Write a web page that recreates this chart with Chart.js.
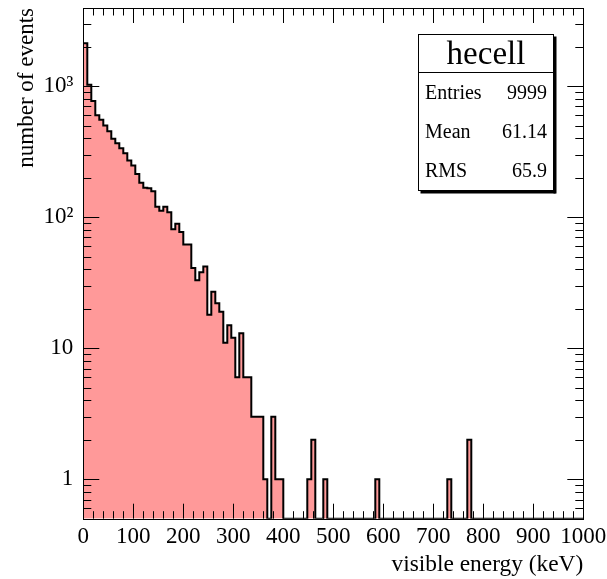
<!DOCTYPE html>
<html>
<head>
<meta charset="utf-8">
<script src="https://cdn.jsdelivr.net/npm/chart.js@4"></script>
<style>
  html, body { margin: 0; padding: 0; background: #fff; }
  #wrap { width: 607px; height: 579px; }
</style>
</head>
<body>
<div id="wrap"><canvas id="histChart" width="607" height="579"></canvas></div>
<script>
// histogram: 125 bins of 8 keV between 0 and 1000 keV
const histName = 'hecell';
const xMin = 0;
const xMax = 1000;
const counts = [
  2130, 1025, 770, 600, 555, 500, 452, 397, 367, 336,
  308, 271, 248, 214, 183, 168, 166, 158, 120, 112,
  120, 109, 81, 89, 77, 62, 62, 41, 33, 38,
  42, 18, 27, 22, 19, 11, 15, 12, 6, 13,
  6, 6, 3, 3, 3, 1, 0, 3, 1, 1,
  0, 0, 0, 0, 0, 0, 1, 2, 0, 0,
  1, 0, 0, 0, 0, 0, 0, 0, 0, 0,
  0, 0, 0, 1, 0, 0, 0, 0, 0, 0,
  0, 0, 0, 0, 0, 0, 0, 0, 0, 0,
  0, 1, 0, 0, 0, 0, 2, 0, 0, 0,
  0, 0, 0, 0, 0, 0, 0, 0, 0, 0,
  0, 0, 0, 0, 0, 0, 0, 0, 0, 0,
  0, 0, 0, 0, 0
];
const statLabels = ['Entries', 'Mean', 'RMS'];
const statValues = ['9999', '61.14', '65.9'];
const yMin = 0.5;
const yMax = 3950;
const yTickValues = [1, 10, 100, 1000];
const yTickLabels = ['1', '10', '10\u00b2', '10\u00b3'];

const serif = '"Liberation Serif", "DejaVu Serif", serif';
const binWidth = (xMax - xMin) / counts.length;

// step points at the bin edges, empty bins sit on the axis floor like ROOT
const steps = counts.map((c, i) => ({ x: xMin + i * binWidth, y: c > 0 ? c : yMin }));
steps.push({ x: xMax, y: yMin });

const frameTicks = {
  id: 'frameTicks',
  afterDatasetsDraw(chart) {
    const { ctx, chartArea: a, scales: { x, y } } = chart;
    ctx.save();
    ctx.strokeStyle = '#000';
    ctx.lineWidth = 1;
    ctx.beginPath();
    // x ticks, bottom and top
    for (let v = xMin; v <= xMax; v += 20) {
      const px = Math.round(x.getPixelForValue(v)) + 0.5;
      const len = v % 100 === 0 ? 15 : 7.5;
      ctx.moveTo(px, a.bottom); ctx.lineTo(px, a.bottom - len);
      ctx.moveTo(px, a.top); ctx.lineTo(px, a.top + len);
    }
    // y ticks, left and right
    for (let d = 0.1; d <= 1000; d *= 10) {
      for (let m = 1; m <= 9; m++) {
        const v = Math.round(d * m * 10) / 10;
        if (v < yMin || v > yMax) continue;
        const py = Math.round(y.getPixelForValue(v)) + 0.5;
        const len = m === 1 ? 16 : 8;
        ctx.moveTo(a.left, py); ctx.lineTo(a.left + len, py);
        ctx.moveTo(a.right, py); ctx.lineTo(a.right - len, py);
      }
    }
    ctx.stroke();
    ctx.strokeRect(Math.round(a.left) + 0.5, Math.round(a.top) + 0.5,
      Math.round(a.right - a.left), Math.round(a.bottom - a.top));
    ctx.restore();
  },
  afterDraw(chart) {
    const { ctx } = chart;
    const bx = 418.5, by = 34.5, bw = 135, bh = 156;
    ctx.save();
    ctx.fillStyle = '#000';
    ctx.fillRect(bx + 2, by + bh, bw, 3);
    ctx.fillRect(bx + bw, by + 2, 3, bh + 1);
    ctx.fillStyle = '#fff';
    ctx.fillRect(bx, by, bw, bh);
    ctx.strokeStyle = '#000';
    ctx.lineWidth = 1;
    ctx.strokeRect(bx, by, bw, bh);
    ctx.beginPath();
    ctx.moveTo(bx, 72.5); ctx.lineTo(bx + bw, 72.5);
    ctx.stroke();
    ctx.fillStyle = '#000';
    ctx.textBaseline = 'middle';
    ctx.textAlign = 'center';
    ctx.font = '33px ' + serif;
    ctx.fillText(histName, bx + bw / 2, 55);
    ctx.font = '20px ' + serif;
    statLabels.forEach((lab, i) => {
      const ty = 93.5 + i * 39;
      ctx.textAlign = 'left';
      ctx.fillText(lab, 425, ty);
      ctx.textAlign = 'right';
      ctx.fillText(statValues[i], 547, ty);
    });
    ctx.restore();
  }
};

const ctx = document.getElementById('histChart').getContext('2d');
const histChart = new Chart(ctx, {
  type: 'line',
  data: {
    datasets: [{
      label: histName,
      data: steps,
      stepped: 'before',
      fill: 'start',
      backgroundColor: '#ff9999',
      borderColor: '#000',
      borderWidth: 2,
      pointRadius: 0,
      tension: 0
    }]
  },
  options: {
    responsive: false,
    animation: false,
    devicePixelRatio: 1,
    layout: { padding: { top: 8, right: 23.7, left: 0, bottom: 0 } },
    plugins: { legend: { display: false }, tooltip: { enabled: false } },
    scales: {
      x: {
        type: 'linear',
        min: xMin,
        max: xMax,
        grid: { display: false },
        border: { display: false },
        ticks: {
          stepSize: 100,
          autoSkip: false,
          color: '#000',
          padding: -4,
          maxRotation: 0,
          font: { family: serif, size: 23 },
          callback: value => String(value)
        },
        title: {
          display: true,
          text: 'visible energy (keV)',
          align: 'end',
          color: '#000',
          padding: 0,
          font: { family: serif, size: 23.4 }
        },
        afterFit(scale) {
          scale.height = 60.3;
          scale.paddingLeft = 0;
          scale.paddingRight = 0;
        }
      },
      y: {
        type: 'logarithmic',
        min: yMin,
        max: yMax,
        grid: { display: false },
        border: { display: false },
        afterBuildTicks(scale) {
          scale.ticks = yTickValues.map(v => ({ value: v }));
        },
        ticks: {
          color: '#000',
          padding: 2,
          font: { family: serif, size: 23 },
          callback(value) {
            const k = yTickValues.indexOf(value);
            return k >= 0 ? yTickLabels[k] : '';
          }
        },
        title: {
          display: true,
          text: 'number of events',
          align: 'end',
          color: '#000',
          padding: { top: 13, bottom: 0 },
          font: { family: serif, size: 23 }
        },
        afterFit(scale) {
          scale.width = 83.3;
          scale.paddingTop = 0;
          scale.paddingBottom = 0;
        }
      }
    }
  },
  plugins: [frameTicks]
});
</script>
</body>
</html>
